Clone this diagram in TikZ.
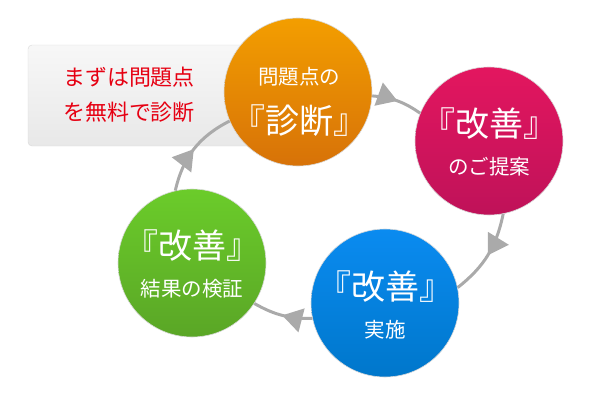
\documentclass[tikz,border=0pt]{standalone}
\usepackage{fontspec}
\setmainfont{Noto Sans CJK JP}
\usetikzlibrary{arrows.meta,decorations.markings}
\definecolor{diagtop}{HTML}{F39E00}
\definecolor{diagbot}{HTML}{D77208}
\definecolor{propt}{HTML}{E3165F}
\definecolor{propb}{HTML}{BF1259}
\definecolor{implt}{HTML}{0A8BF0}
\definecolor{implb}{HTML}{0077CB}
\definecolor{verit}{HTML}{6BCC2A}
\definecolor{verib}{HTML}{5AA626}
\definecolor{arrowclr}{HTML}{AAAAAA}
\definecolor{memored}{HTML}{E60012}
\tikzset{
    stage/.style={circle,minimum size=148pt,inner sep=0pt,draw=black!15,line width=0.6pt},
    memo/.style={rectangle,rounded corners=4pt,draw=black!15,top color=black!3,bottom color=black!9,minimum width=234pt,minimum height=101pt,inner sep=0pt},
    big/.style={text=white,font=\fontsize{34}{36}\selectfont,inner sep=0pt},
    small/.style={text=white,font=\fontsize{20.5}{22}\selectfont,inner sep=0pt},
    redtxt/.style={text=memored,font=\fontsize{22}{24}\selectfont,inner sep=0pt},
    flow/.style={draw=arrowclr,line width=3pt,postaction={decorate},
        decoration={markings,mark=at position 0.5 with {\arrow[arrowclr]{Triangle[length=20pt,width=24pt]}}}},
}

\begin{document}
\begin{tikzpicture}[x=1pt,y=-1pt]
\useasboundingbox (0,0) rectangle (600,400);

% note box behind the first circle
\node[memo] (memo) at (145,95.5) {};
\node[redtxt] (memo1) at (129,77)  {まずは問題点};
\node[redtxt] (memo2) at (129,112) {を無料で診断};

% the four stages
\node[stage,top color=diagtop,bottom color=diagbot] (diag) at (298,92)  {};
\node[stage,top color=propt,bottom color=propb]     (prop) at (489,141) {};
\node[stage,top color=implt,bottom color=implb]     (impl) at (385,303) {};
\node[stage,top color=verit,bottom color=verib]     (veri) at (192,263) {};

\node[small] (diag1) at (299,77)  {問題点の};
\node[big]   (diag2) at (299,121) {『診断』};
\node[big]   (prop1) at (489,124) {『改善』};
\node[small] (prop2) at (489,167) {のご提案};
\node[big]   (impl1) at (385,287) {『改善』};
\node[small] (impl2) at (385,330) {実施};
\node[big]   (veri1) at (192,246) {『改善』};
\node[small] (veri2) at (192,289) {結果の検証};

% cycle
\draw[flow] (diag.-3)  to[bend left=15] (prop.158);
\draw[flow] (prop.-79) to[bend left=20] (impl.12);
\draw[flow] (impl.192) to[bend left=15] (veri.-33);
\draw[flow] (veri.103) to[bend left=25] (diag.203);
\end{tikzpicture}
\end{document}
